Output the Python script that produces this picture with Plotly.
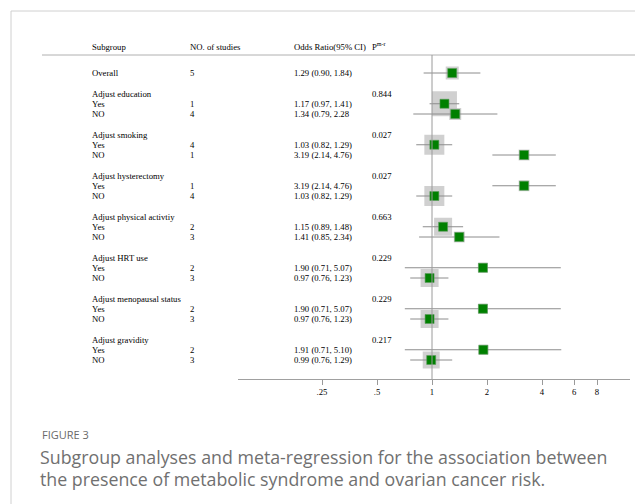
import plotly.graph_objects as go

# ---------------- data ----------------
groups = ["Adjust education", "Adjust smoking", "Adjust hysterectomy",
          "Adjust physical activtiy", "Adjust HRT use",
          "Adjust menopausal status", "Adjust gravidity"]
p_values = ["0.844", "0.027", "0.027", "0.663", "0.229", "0.229", "0.217"]

yes_n = [1, 4, 1, 2, 2, 2, 2]
yes_or = [1.17, 1.03, 3.19, 1.15, 1.90, 1.90, 1.91]
yes_lo = [0.97, 0.82, 2.14, 0.89, 0.71, 0.71, 0.71]
yes_hi = [1.41, 1.29, 4.76, 1.48, 5.07, 5.07, 5.10]
yes_w = [100, 64, 19, 52, 16, 16, 16]

no_n = [4, 1, 4, 3, 3, 3, 3]
no_or = [1.34, 3.19, 1.03, 1.41, 0.97, 0.97, 0.99]
no_lo = [0.79, 2.14, 0.82, 0.85, 0.76, 0.76, 0.76]
no_hi = [2.28, 4.76, 1.29, 2.34, 1.23, 1.23, 1.29]
no_w = [23, 19, 64, 19, 52, 52, 46]

overall_n = 5
overall_or, overall_lo, overall_hi, overall_w = 1.29, 0.90, 1.84, 27

tick_vals = [0.25, 0.5, 1, 2, 4, 6, 8]
tick_text = [".25", ".5", "1", "2", "4", "6", "8"]

header = ["Subgroup", "NO. of studies", "Odds Ratio(95% CI)", "P<sup>m-r</sup>"]
caption_label = "FIGURE 3"
caption_lines = ["Subgroup analyses and meta-regression for the association between",
                 "the presence of metabolic syndrome and ovarian cancer risk."]

# ---------------- build rows ----------------
def ci_text(o, l, h):
    return f"{o:.2f} ({l:.2f}, {h:.2f})"

rows = []  # (row_index, label, n, or, lo, hi, w, p)
rows.append((0, "Overall", overall_n, overall_or, overall_lo, overall_hi, overall_w, None))
for i, g in enumerate(groups):
    base = 2 + 4 * i
    rows.append((base, g, None, None, None, None, None, p_values[i]))
    rows.append((base + 1, "Yes", yes_n[i], yes_or[i], yes_lo[i], yes_hi[i], yes_w[i], None))
    rows.append((base + 2, "NO", no_n[i], no_or[i], no_lo[i], no_hi[i], no_w[i], None))

W, H = 643, 504
OFF = 8  # page body margin

def px(x):
    return (x - OFF) / W

def py(y):
    return 1 - (y - OFF) / H

fig = go.Figure()

est = [r for r in rows if r[3] is not None]
ys = [r[0] for r in est]
ors = [r[3] for r in est]
sizes = [2.5 * (r[6] ** 0.5) for r in est]

# weight boxes
fig.add_trace(go.Scatter(x=ors, y=ys, mode="markers",
                         marker=dict(symbol="square", size=sizes, color="#bcbcbc",
                                     line=dict(width=0)),
                         hoverinfo="skip", showlegend=False))
# CI lines
lx, ly = [], []
for r in est:
    lx += [r[4], r[5], None]
    ly += [r[0], r[0], None]
fig.add_trace(go.Scatter(x=lx, y=ly, mode="lines",
                         line=dict(color="#8c8c8c", width=1),
                         hoverinfo="skip", showlegend=False))
# point estimates
fig.add_trace(go.Scatter(x=ors, y=ys, mode="markers",
                         marker=dict(symbol="square", size=9, color="#008000",
                                     line=dict(width=0.6, color="#5a9a5a")),
                         showlegend=False))

font_serif = dict(family="Liberation Serif, Times New Roman, serif", size=8.7, color="#000")
ann = []
col_x = [90, 188, 292, 370]
for cx, h in zip(col_x, header):
    ann.append(dict(x=px(cx), y=py(47), xref="paper", yref="paper", text=h,
                    showarrow=False, xanchor="left", yanchor="middle", font=font_serif))
for r in rows:
    idx, label, n, o, l, h, w, p = r
    ann.append(dict(x=px(col_x[0]), y=idx, xref="paper", yref="y", text=label,
                    showarrow=False, xanchor="left", yanchor="middle", font=font_serif))
    if n is not None:
        ann.append(dict(x=px(col_x[1]), y=idx, xref="paper", yref="y", text=str(n),
                        showarrow=False, xanchor="left", yanchor="middle", font=font_serif))
    if o is not None:
        t = ci_text(o, l, h)
        if label == "NO" and idx == 4:
            t = t[:-1]  # as printed in the original
        ann.append(dict(x=px(col_x[2]), y=idx, xref="paper", yref="y", text=t,
                        showarrow=False, xanchor="left", yanchor="middle", font=font_serif))
    if p is not None:
        ann.append(dict(x=px(col_x[3]), y=idx, xref="paper", yref="y", text=p,
                        showarrow=False, xanchor="left", yanchor="middle", font=font_serif))

# caption
ann.append(dict(x=px(40), y=py(434), xref="paper", yref="paper", text=caption_label,
                showarrow=False, xanchor="left", yanchor="middle",
                font=dict(family="Open Sans, sans-serif", size=11, color="#6a6a6a")))
for k, line in enumerate(caption_lines):
    ann.append(dict(x=px(38), y=py(457 + 22 * k), xref="paper", yref="paper", text=line,
                    showarrow=False, xanchor="left", yanchor="middle", align="left",
                    font=dict(family="Open Sans, sans-serif", size=17.8, color="#707070")))

# geometry
y_axis_px, y_top_px = 379, 55
row0_px, row_step = 73, 10.25
y_range = [(y_axis_px - row0_px) / row_step, (y_top_px - row0_px) / row_step]
x_left_px, x_right_px, one_px = 238, 630, 432
px_per_dec = 55 / 0.30103
x_range = [(x_left_px - one_px) / px_per_dec, (x_right_px - one_px) / px_per_dec]

shapes = [
    # figure frame
    dict(type="line", xref="paper", yref="paper", x0=px(11), x1=1.05, y0=py(11), y1=py(11),
         line=dict(color="#d0d0d0", width=1)),
    dict(type="line", xref="paper", yref="paper", x0=px(11), x1=px(11), y0=-0.05, y1=py(11),
         line=dict(color="#d0d0d0", width=1)),
    # header rule
    dict(type="line", xref="paper", yref="paper", x0=px(42), x1=px(637),
         y0=py(y_top_px), y1=py(y_top_px), line=dict(color="#b0b0b0", width=1)),
    # null line
    dict(type="line", xref="x", yref="paper", x0=1, x1=1,
         y0=py(y_axis_px), y1=py(y_top_px), line=dict(color="#9a9a9a", width=1)),
]

fig.update_layout(
    width=W, height=H, margin=dict(l=0, r=0, t=0, b=0),
    paper_bgcolor="white", plot_bgcolor="white",
    annotations=ann, shapes=shapes,
    xaxis=dict(type="log", domain=[px(x_left_px), px(x_right_px)], range=x_range,
               tickvals=tick_vals, ticktext=tick_text, ticks="outside", ticklen=5,
               tickcolor="#9a9a9a", showline=True, linecolor="#a0a0a0", linewidth=1,
               showgrid=False, zeroline=False,
               tickfont=dict(family="Liberation Serif, Times New Roman, serif", size=8.7, color="#000")),
    yaxis=dict(domain=[py(y_axis_px), py(y_top_px)], range=y_range,
               visible=False, showgrid=False, zeroline=False),
)

fig.write_html("out.html")
